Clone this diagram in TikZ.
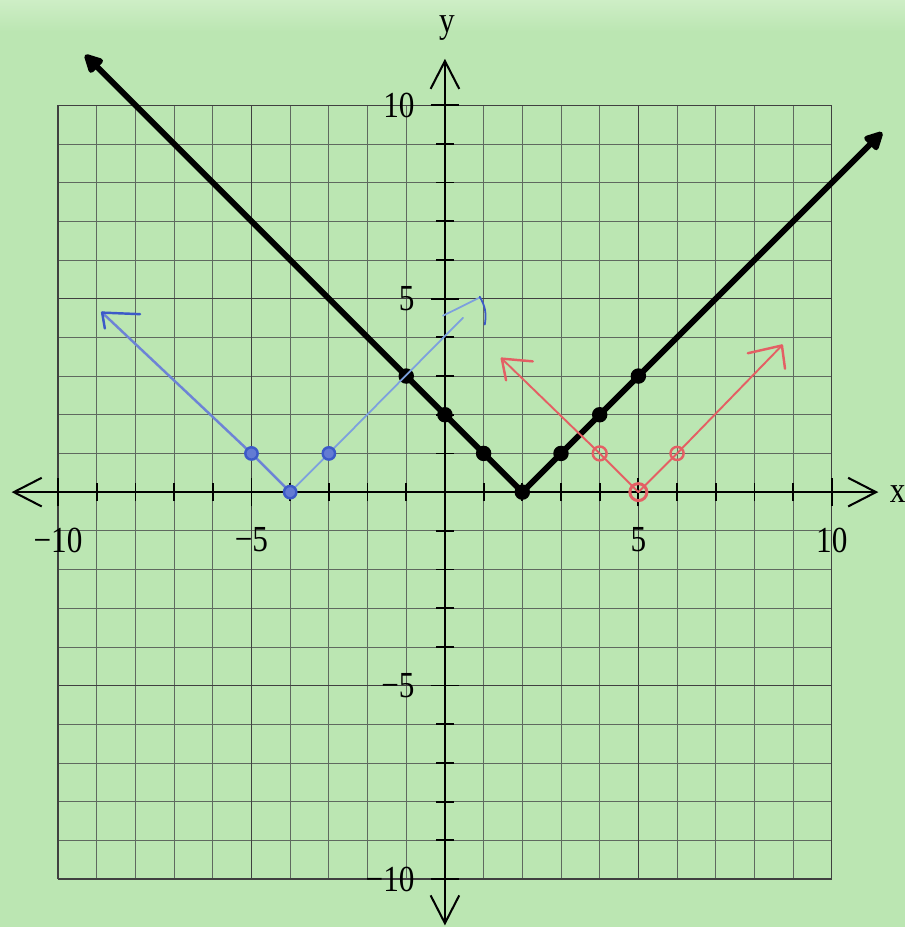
\documentclass[tikz,border=0pt]{standalone}
\usepackage{fontspec}
\setmainfont{Liberation Serif}[FakeStretch=0.85]
\usetikzlibrary{arrows.meta}
\definecolor{paper}{RGB}{187,230,178}
\definecolor{paperhi}{RGB}{206,238,198}
\definecolor{penblue}{RGB}{60,90,200}
\definecolor{paleblue}{RGB}{125,160,222}
\definecolor{penred}{RGB}{228,95,100}
\definecolor{gridgray}{RGB}{95,105,95}
\begin{document}
\begin{tikzpicture}[x=1cm, y=1cm,
    gridthin/.style={gridgray, line width=0.55pt},
    gridfive/.style={black!75, line width=0.8pt},
    axisline/.style={line width=1.5pt,
        {Straight Barb[length=0.72cm, width=0.74cm, line width=1.5pt]}-{Straight Barb[length=0.72cm, width=0.74cm, line width=1.5pt]}},
    graphline/.style={line width=4.3pt, line join=round,
        {Triangle[length=0.55cm, width=0.52cm, round]}-{Triangle[length=0.55cm, width=0.52cm, round]}},
    ticklabel/.style={inner sep=0pt, font=\fontsize{27}{31}\selectfont},
    bluepen/.style={penblue, line width=1.8pt, line cap=round, line join=round},
    redpen/.style={penred, line width=1.4pt, line cap=round, line join=round}]
    % paper and page size
    \fill[paper] (-11.5,-11.24) rectangle (11.89,12.72);
    \shade[top color=paperhi, bottom color=paper] (-11.5,11.9) rectangle (11.89,12.72);
    \useasboundingbox (-11.5,-11.24) rectangle (11.89,12.72);
    % grid, every fifth line darker
    \draw[gridthin] (-10,-10) grid (10,10);
    \foreach \v in {-10,-5,5,10} {
        \draw[gridfive] (\v,-10) -- (\v,10);
        \draw[gridfive] (-10,\v) -- (10,\v);
    }
    % axes
    \coordinate (xmin) at (-11.2,0);
    \coordinate (xmax) at (11.2,0);
    \coordinate (ymin) at (0,-11.2);
    \coordinate (ymax) at (0,11.2);
    \draw[axisline] (xmin) -- (xmax);
    \draw[axisline] (ymin) -- (ymax);
    \node[ticklabel] (ylab) at (0.05,12.0) {y};
    \node[ticklabel] (xlab) at (11.7,-0.05) {x};
    % ticks
    \foreach \v in {-10,...,10} {
        \draw[line width=1.3pt] (\v,-0.23) -- (\v,0.23);
        \draw[line width=1.3pt] (-0.23,\v) -- (0.23,\v);
    }
    \foreach \v in {-10,-5,5,10} {
        \draw[line width=1.3pt] (\v,-0.37) -- (\v,0.37);
        \draw[line width=1.3pt] (-0.37,\v) -- (0.37,\v);
    }
    \foreach \v/\t in {-10/−10,-5/−5,5/5,10/10} {
        \node[ticklabel] (xt\v) at (\v,-1.24) {\t};
        \node[ticklabel, anchor=east] (yt\v) at (-0.78,\v) {\t};
    }
    % y = |x - 2|
    \coordinate (bl) at (-9.3,11.3);
    \coordinate (bv) at (2,0);
    \coordinate (br) at (11.3,9.3);
    \draw[graphline] (bl) -- (bv) -- (br);
    \foreach \x in {-1,...,5}
        \fill (\x,{abs(\x-2)}) circle (0.2);
    % y = |x + 4| (hand drawn)
    \coordinate (bv2) at (-4,0);
    \coordinate (bl2) at (-5,1);
    \coordinate (br2) at (-3,1);
    \coordinate (btip) at (-8.86,4.64);
    \draw[bluepen, penblue!75] (btip) -- (bl2) -- (bv2);
    \draw[bluepen] (btip) -- (-7.88,4.6);
    \draw[bluepen] (btip) -- (-8.79,4.23);
    \draw[bluepen, paleblue, line width=1.3pt] (bv2) -- (br2) -- (0.47,4.51);
    \draw[bluepen, paleblue, line width=1.3pt] (-0.05,4.56) -- (0.9,5.03);
    \draw[bluepen, line width=1.3pt] (0.9,5.05) to[bend left=20] (1.03,4.33);
    \foreach \p in {bl2,bv2,br2}
        \filldraw[bluepen, fill=penblue!80] (\p) circle (0.16);
    % y = |x - 5| (hand drawn)
    \coordinate (rv) at (5,0);
    \coordinate (rl) at (4,1);
    \coordinate (rr) at (6,1);
    \coordinate (rtipl) at (1.47,3.45);
    \coordinate (rtipr) at (8.71,3.79);
    \draw[redpen] (rtipl) -- (rl) -- (rv) -- (rr) -- (rtipr);
    \draw[redpen, line width=1.8pt] (rtipl) -- (2.27,3.38);
    \draw[redpen, line width=1.8pt] (rtipl) -- (1.58,2.89);
    \draw[redpen, line width=1.8pt] (rtipr) -- (7.83,3.59);
    \draw[redpen, line width=1.8pt] (rtipr) -- (8.79,3.19);
    \draw[redpen, line width=1.8pt] (rl) circle (0.18);
    \draw[redpen, line width=1.8pt] (rr) circle (0.17);
    \draw[redpen, line width=2.2pt] (rv) circle (0.22);
\end{tikzpicture}
\end{document}
